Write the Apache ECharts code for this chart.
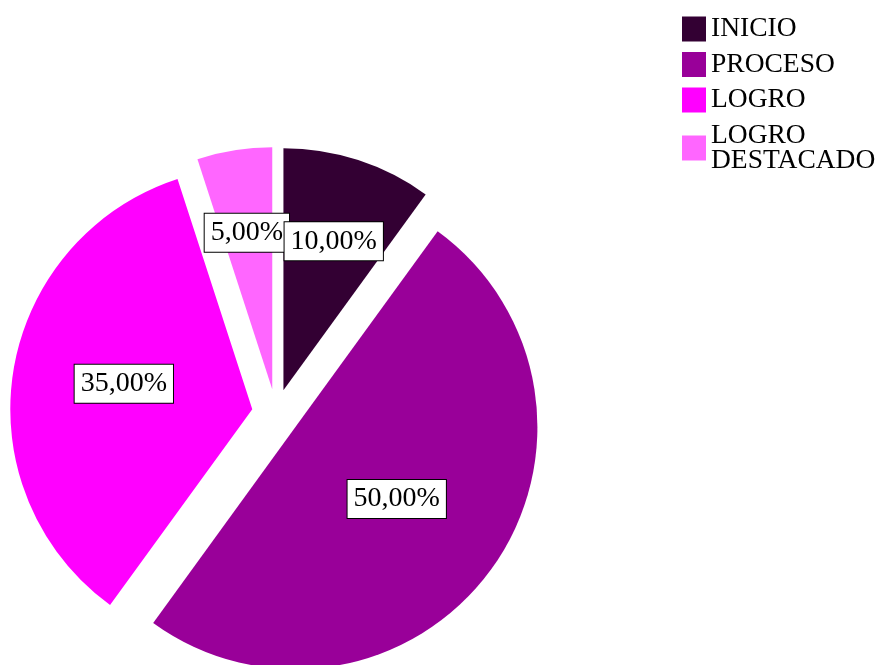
<!DOCTYPE html>
<html>
<head>
<meta charset="utf-8">
<script src="https://cdn.jsdelivr.net/npm/echarts@6/dist/echarts.min.js"></script>
<style>
html,body{margin:0;padding:0;background:#fff;}
#chart{width:878px;height:665px;}
</style>
</head>
<body>
<div id="chart"></div>
<script>
var categories = ['INICIO', 'PROCESO', 'LOGRO', 'LOGRO DESTACADO'];
var values = [10, 50, 35, 5];
var colors = ['#330033', '#990099', '#FF00FF', '#FF66FF'];
var labelShift = {
  'INICIO': [12, -31],
  'PROCESO': [1, -1],
  'LOGRO': [-6, -6],
  'LOGRO DESTACADO': [-6, -34]
};

var chart = echarts.init(document.getElementById('chart'), null, {renderer: 'canvas'});
var FONT = '"Liberation Serif", "Times New Roman", serif';

// built in reverse and drawn counter-clockwise so that the INICIO label is painted last (on top)
var data = categories.map(function (c, i) {
  return { name: c, value: values[i], selected: true, itemStyle: { color: colors[i] } };
}).reverse();

chart.setOption({
  animation: false,
  backgroundColor: '#ffffff',
  legend: {
    orient: 'vertical',
    left: 682,
    top: 15,
    padding: 0,
    itemWidth: 24,
    itemHeight: 25,
    itemGap: 7.5,
    icon: 'rect',
    selectedMode: false,
    data: categories,
    formatter: function (n) { return n.replace(' ', '\n'); },
    textStyle: { fontFamily: FONT, fontSize: 27.5, lineHeight: 25, color: '#000' }
  },
  series: [{
    type: 'pie',
    center: [276, 413],
    radius: 242,
    startAngle: 90,
    clockwise: false,
    selectedMode: 'multiple',
    selectedOffset: 24,
    avoidLabelOverlap: false,
    emphasis: { scale: false, disabled: true },
    data: data,
    label: {
      show: true,
      position: 'inside',
      formatter: function (p) { return p.value.toFixed(2).replace('.', ',') + '%'; },
      fontFamily: FONT,
      fontSize: 28,
      lineHeight: 28,
      color: '#000',
      backgroundColor: '#fff',
      borderColor: '#000',
      borderWidth: 1,
      padding: [5, 6, 5, 6]
    },
    labelLine: { show: false },
    labelLayout: function (p) {
      var s = labelShift[data[p.dataIndex].name];
      return { dx: s[0], dy: s[1] };
    }
  }]
});
</script>
</body>
</html>
